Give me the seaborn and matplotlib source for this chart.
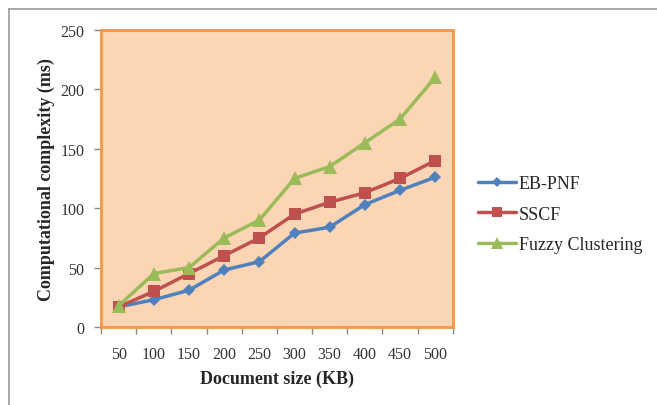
import matplotlib
matplotlib.use("Agg")
import matplotlib.pyplot as plt
from matplotlib.lines import Line2D
import pandas as pd
import seaborn as sns

# values
doc_sizes = ["50", "100", "150", "200", "250", "300", "350", "400", "450", "500"]
eb_pnf = [17, 23, 31, 48, 55, 79, 84, 103, 115, 126]
sscf = [17, 30, 45, 60, 75, 95, 105, 113, 125, 140]
fuzzy = [18, 45, 50, 75, 90, 125, 135, 155, 175, 210]

series_names = ["EB-PNF", "SSCF", "Fuzzy Clustering"]
series_vals = [eb_pnf, sscf, fuzzy]
colors = ["#4F81BD", "#C0504D", "#9BBB59"]
markers = ["D", "s", "^"]
msizes = [6, 9, 10]

rows = []
for name, vals in zip(series_names, series_vals):
    for size, v in zip(doc_sizes, vals):
        rows.append({"size": size, "value": v, "method": name})
df = pd.DataFrame(rows)

sns.set_theme(style="white")
plt.rcParams["font.family"] = ["Liberation Serif", "DejaVu Serif"]

fig = plt.figure(figsize=(6.57, 4.06), dpi=100)
ax = fig.add_axes([0.154, 0.192, 0.535, 0.732])
ax.set_facecolor("#FCD5B5")

for name, color, mk, ms in zip(series_names, colors, markers, msizes):
    sub = df[df["method"] == name]
    sns.lineplot(data=sub, x=sub["size"].map(doc_sizes.index), y="value",
                 color=color, marker=mk, markersize=ms, markeredgewidth=0,
                 linewidth=2.5, ax=ax, label=None, legend=False)

ax.set_xlim(-0.5, len(doc_sizes) - 0.5)
ax.set_ylim(0, 250)
ax.set_yticks(range(0, 251, 50))
ax.set_xticks(range(len(doc_sizes)))
ax.set_xticklabels(doc_sizes)
ax.set_xticks([i - 0.5 for i in range(len(doc_sizes) + 1)], minor=True)

ax.tick_params(axis="x", which="major", length=0, pad=14, labelsize=11.5, colors="#333333")
ax.tick_params(axis="x", which="minor", length=5, width=1, color="#888888", direction="out", bottom=True)
ax.tick_params(axis="y", length=5, width=1, color="#888888", direction="out", left=True,
               pad=7, labelsize=11.5, labelcolor="#333333")

for sp in ax.spines.values():
    sp.set_color("#F79646")
    sp.set_linewidth(2)

ax.set_xlabel("Document size (KB)", fontsize=13, fontweight="bold", labelpad=5)
ax.set_ylabel("Computational complexity (ms)", fontsize=13, fontweight="bold", labelpad=4)

handles = [Line2D([0], [0], color=c, marker=m, markersize=s * 0.8, markeredgewidth=0, linewidth=2.5)
           for c, m, s in zip(colors, markers, msizes)]
fig.legend(handles, series_names, loc="center left", bbox_to_anchor=(0.703, 0.47),
           frameon=False, fontsize=13, handlelength=2.1, handletextpad=0.15, labelspacing=0.75)

# outer chart border (top and left only visible)
fig.add_artist(Line2D([9 / 657, 1], [1 - 10 / 406, 1 - 10 / 406], transform=fig.transFigure,
                      color="#999999", linewidth=1.2))
fig.add_artist(Line2D([9 / 657, 9 / 657], [0, 1 - 10 / 406], transform=fig.transFigure,
                      color="#999999", linewidth=1.2))

fig.savefig("out.png", dpi=100, facecolor="white")
